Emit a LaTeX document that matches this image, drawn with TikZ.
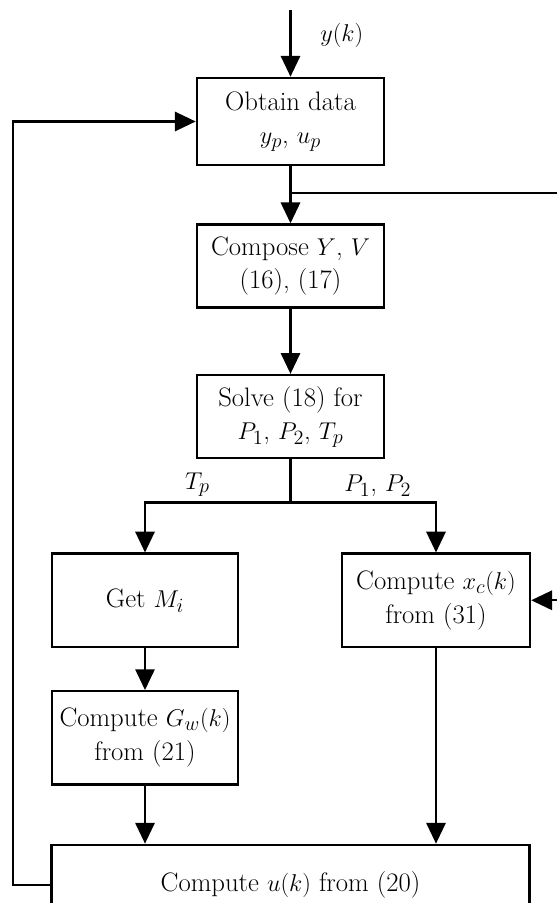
\documentclass[tikz,border=0pt]{standalone}
\usepackage{amsmath,amssymb}
\usepackage{xcolor}
\usepackage{tikz}
\usetikzlibrary{positioning,arrows.meta}

\begin{document}
\begin{tikzpicture}[
    node distance=1.4cm,
    font=\fontsize{19}{24}\selectfont,
    block/.style={draw, line width=1.7pt, minimum width=4.68cm, minimum height=2.08cm, align=center, inner sep=2pt},
    arr/.style={-{Triangle[length=5.2mm, width=4.8mm]}, line width=1.7pt},
    wire/.style={line width=1.7pt}
]
    \useasboundingbox (0,0) rectangle (13.9,-22.575);

    % Main column
    \node[block, minimum height=2.18cm] (obtain) at (7.2625,-3.0375) {Obtain data\\$y_p$, $u_p$};
    \node[block, below=1.425cm of obtain] (compose) {Compose $Y$, $V$\\(16), (17)};
    \node[block, below=1.625cm of compose] (solve) {Solve (18) for\\$P_1$, $P_2$, $T_p$};

    % Two branches
    \node[block, minimum width=4.65cm, minimum height=2.33cm, below=2.325cm of solve, xshift=-3.6375cm] (getm) {Get $M_i$};
    \node[block, minimum width=4.7cm, minimum height=2.33cm, below=2.325cm of solve, xshift=3.6375cm] (compx) {Compute $x_c(k)$\\from (31)};
    \node[block, minimum width=4.65cm, minimum height=2.33cm, below=1.05cm of getm] (gw) {Compute $G_w(k)$\\from (21)};

    % Control output
    \coordinate (ukref) at (gw.south -| solve.south);
    \node[block, minimum width=11.95cm, minimum height=2.0cm, below=1.45cm of ukref] (uk) {Compute $u(k)$ from (20)};

    % Free ends and junctions
    \coordinate (yin) at (7.2625,-0.25);
    \coordinate[below=0.675cm of obtain] (tap);
    \coordinate (tapout) at (14.2,0 |- tap);
    \coordinate[below=1.075cm of solve] (split);
    \coordinate (xin) at (14.2,0 |- compx);

    % Connections
    \draw[arr] (yin) -- (obtain) node[midway, right=0.6cm, yshift=0.2cm] {$y(k)$};
    \draw[arr] (obtain) -- (compose);
    \draw[wire] (tap) -- (tapout);
    \draw[arr] (compose) -- (solve);
    \draw[wire] (solve) -- (split);
    \draw[arr] (split) -| (getm) node[pos=0.32, above] {$T_p$};
    \draw[arr] (split) -| (compx) node[pos=0.3, above] {$P_1$, $P_2$};
    \draw[arr] (xin) -- (compx);
    \draw[arr] (getm) -- (gw);
    \draw[arr] (gw) -- (gw.south |- uk.north);
    \draw[arr] (compx) -- (compx.south |- uk.north);

    % Feedback loop
    \draw[arr] (uk.west) -- ++(-0.925,0) |- (obtain.west);
\end{tikzpicture}
\end{document}
